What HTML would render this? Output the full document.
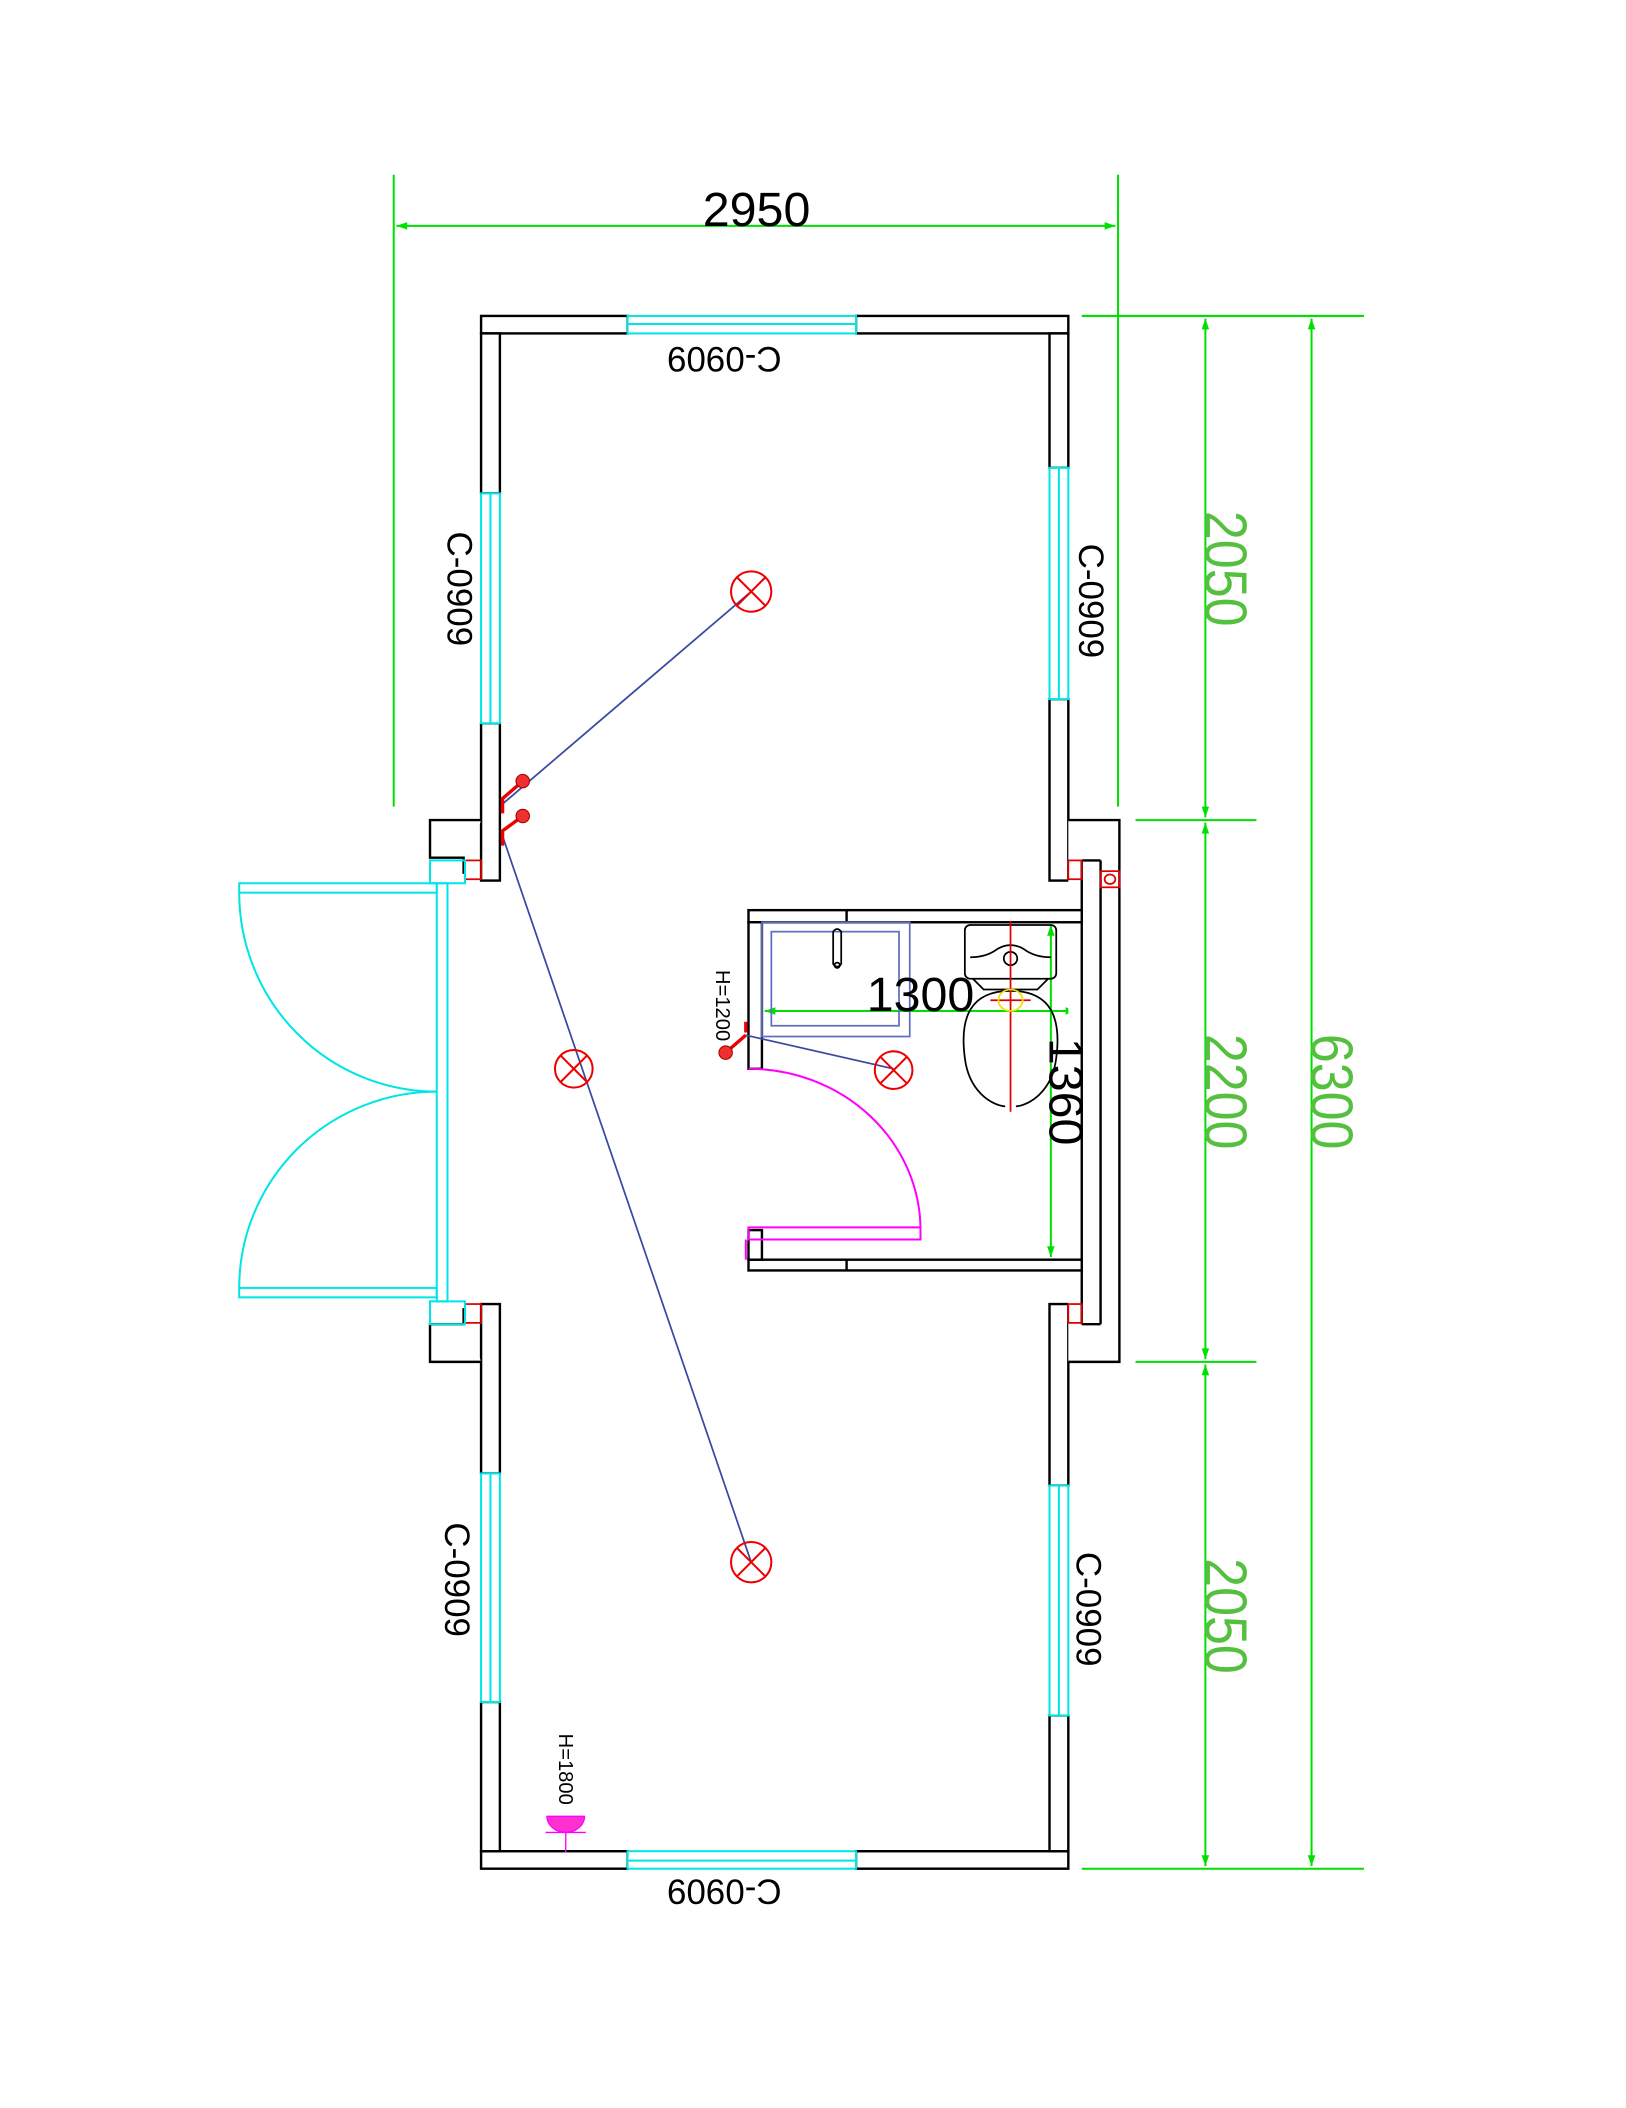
<!DOCTYPE html>
<html><head><meta charset="utf-8"><style>html,body{margin:0;padding:0;background:#fff;}svg{display:block}</style></head>
<body>
<svg width="1626" height="2108" viewBox="0 0 1210 1568" preserveAspectRatio="none" xmlns="http://www.w3.org/2000/svg" font-family="Liberation Sans, sans-serif">
<defs>
<marker id="ar" viewBox="0 0 10 10" refX="10" refY="5" markerWidth="10" markerHeight="8" orient="auto-start-reverse" markerUnits="userSpaceOnUse"><path d="M0,1.5 L10,5 L0,8.5 z" fill="#00e000"/></marker>
</defs>
<g fill="none" stroke="#00e000" stroke-width="1.5">
<line x1="293" y1="130" x2="293" y2="600"/>
<line x1="832" y1="130" x2="832" y2="600"/>
<line x1="295" y1="168" x2="830" y2="168" marker-start="url(#ar)" marker-end="url(#ar)"/>
<line x1="805" y1="235" x2="1015" y2="235"/>
<line x1="845" y1="610" x2="935" y2="610"/>
<line x1="845" y1="1013" x2="935" y2="1013"/>
<line x1="805" y1="1390" x2="1015" y2="1390"/>
<line x1="897" y1="237" x2="897" y2="608" marker-start="url(#ar)" marker-end="url(#ar)"/>
<line x1="897" y1="612" x2="897" y2="1011" marker-start="url(#ar)" marker-end="url(#ar)"/>
<line x1="897" y1="1015" x2="897" y2="1388" marker-start="url(#ar)" marker-end="url(#ar)"/>
<line x1="976" y1="237" x2="976" y2="1388" marker-start="url(#ar)" marker-end="url(#ar)"/>
<line x1="569" y1="752" x2="801" y2="752" marker-start="url(#ar)" marker-end="url(#ar)"/>
<line x1="782" y1="688" x2="782" y2="935" marker-start="url(#ar)" marker-end="url(#ar)"/>
<line x1="745" y1="686" x2="805" y2="686"/>
<line x1="745" y1="937" x2="805" y2="937"/>
<line x1="567" y1="686" x2="567" y2="795"/>
<line x1="803" y1="698" x2="803" y2="937"/>
</g>
<text x="563" y="168" font-size="36" text-anchor="middle" fill="#000">2950</text>
<g fill="#55c040" font-size="44">
<text transform="translate(897,423) rotate(90)" text-anchor="middle" textLength="86" lengthAdjust="spacingAndGlyphs">2050</text>
<text transform="translate(897,812) rotate(90)" text-anchor="middle" textLength="86" lengthAdjust="spacingAndGlyphs">2200</text>
<text transform="translate(897,1202) rotate(90)" text-anchor="middle" textLength="86" lengthAdjust="spacingAndGlyphs">2050</text>
<text transform="translate(976,812) rotate(90)" text-anchor="middle" textLength="86" lengthAdjust="spacingAndGlyphs">6300</text>
</g>
<g fill="#fff" stroke="#000" stroke-width="1.8">
<rect x="358" y="235" width="109" height="13"/>
<rect x="637" y="235" width="158" height="13"/>
<rect x="358" y="1377" width="109" height="13"/>
<rect x="637" y="1377" width="158" height="13"/>
<rect x="358" y="248" width="14" height="119"/>
<rect x="358" y="538" width="14" height="117"/>
<rect x="358" y="970" width="14" height="126"/>
<rect x="358" y="1266" width="14" height="111"/>
<rect x="781" y="248" width="14" height="100"/>
<rect x="781" y="520" width="14" height="135"/>
<rect x="781" y="970" width="14" height="135"/>
<rect x="781" y="1276" width="14" height="101"/>
<path d="M358,610 H320 V638 H345 V650" />
<path d="M358,1013 H320 V985 H345 V973" />
<path d="M795,610 H833 V1013 H795"/>
<line x1="819" y1="640" x2="819" y2="985"/>
<path d="M805,640 H819 M805,985 H819"/>
<line x1="805" y1="640" x2="805" y2="985"/>
</g>
<g fill="none" stroke="#e00000" stroke-width="1.3">
<rect x="346" y="640" width="12" height="14"/><rect x="346" y="970" width="12" height="14"/>
<rect x="795" y="640" width="10" height="14"/><rect x="795" y="970" width="10" height="14"/>
<rect x="819" y="648" width="14" height="12"/><ellipse cx="826" cy="654" rx="4" ry="3.5"/>
</g>
<g fill="#fff" stroke="#00e5e5" stroke-width="1.5">
<rect x="467" y="235" width="170" height="13"/><line x1="467" y1="241" x2="637" y2="241"/>
<rect x="467" y="1377" width="170" height="13"/><line x1="467" y1="1384" x2="637" y2="1384"/>
<rect x="358" y="367" width="14" height="171"/><line x1="365" y1="367" x2="365" y2="538"/>
<rect x="358" y="1096" width="14" height="170"/><line x1="365" y1="1096" x2="365" y2="1266"/>
<rect x="781" y="348" width="14" height="172"/><line x1="788" y1="348" x2="788" y2="520"/>
<rect x="781" y="1105" width="14" height="171"/><line x1="788" y1="1105" x2="788" y2="1276"/>
</g>
<g fill="none" stroke="#00e5e5" stroke-width="1.5">
<rect x="320" y="640" width="26" height="17"/><rect x="320" y="968" width="26" height="17"/>
<rect x="325" y="657" width="8" height="311"/>
<rect x="178" y="657" width="147" height="7"/>
<rect x="178" y="958" width="147" height="7"/>
<path d="M178,664 A147,148 0 0 0 325,812"/>
<path d="M325,812 A147,146 0 0 0 178,958"/>
</g>
<g font-size="26" fill="#000" text-anchor="middle">
<text transform="translate(539,258) rotate(180)" >C-0909</text>
<text transform="translate(539,1398) rotate(180)">C-0909</text>
<text transform="translate(333,438) rotate(90)">C-0909</text>
<text transform="translate(803,447) rotate(90)">C-0909</text>
<text transform="translate(331,1175) rotate(90)">C-0909</text>
<text transform="translate(801,1197) rotate(90)">C-0909</text>
</g>
<g fill="#fff" stroke="#000" stroke-width="1.8">
<rect x="557" y="677" width="248" height="9"/><line x1="630" y1="677" x2="630" y2="686"/>
<rect x="557" y="937" width="248" height="8"/><line x1="630" y1="937" x2="630" y2="945"/>
<rect x="557" y="686" width="10" height="109"/>
<rect x="557" y="915" width="10" height="22"/>
</g>
<g fill="none" stroke="#6070c0" stroke-width="1.3">
<rect x="567" y="686" width="110" height="85"/><rect x="574" y="693" width="95" height="70"/>
</g>
<g fill="none" stroke="#000" stroke-width="1.3">
<path d="M620,693 q3,-4 6,0 v24 q-3,4 -6,0z"/><circle cx="623" cy="718" r="2"/>
<rect x="718" y="688" width="68" height="40" rx="4"/>
<path d="M722,712 q12,0 20,-6 q10,-6 20,0 q8,6 20,6"/>
<circle cx="752" cy="713" r="5"/>
<path d="M724,728 l8,8 h40 l8,-8"/>
<path d="M752,737 c-30,0 -38,20 -34,50 c3,25 20,35 30,36 M752,737 c30,0 38,20 34,50 c-3,25 -20,35 -30,36"/>
</g>
<g stroke="#e00000" stroke-width="1.3" fill="none">
<line x1="752" y1="685" x2="752" y2="827"/><line x1="737" y1="744" x2="767" y2="744"/>
</g>
<ellipse cx="752" cy="744" rx="9" ry="8" fill="none" stroke="#f0e000" stroke-width="1.3"/>
<g fill="none" stroke="#ff00ff" stroke-width="1.5">
<path d="M557,795 A128,120 0 0 1 685,915 V922 H557 V913 H685"/>
<line x1="555" y1="922" x2="555" y2="937"/>
</g>
<text x="685" y="752" font-size="36" text-anchor="middle" fill="#000">1300</text>
<text transform="translate(781,812) rotate(90)" font-size="36" text-anchor="middle" fill="#000">1360</text>
<text transform="translate(533,748) rotate(90)" font-size="15" text-anchor="middle" fill="#000">H=1200</text>
<text transform="translate(416,1316) rotate(90)" font-size="15" text-anchor="middle" fill="#000">H=1800</text>
<g stroke="#3a4aa0" stroke-width="1.3" fill="none">
<line x1="374" y1="598" x2="559" y2="440"/>
<line x1="374" y1="622" x2="559" y2="1162"/>
<line x1="555" y1="770" x2="665" y2="795"/>
</g>
<g stroke="#ee0000" stroke-width="1.5" fill="none">
<circle cx="559" cy="440" r="15"/><path d="M548,429 l22,22 M570,429 l-22,22"/>
<circle cx="427" cy="795" r="14"/><path d="M417,785 l20,20 M437,785 l-20,20"/>
<circle cx="559" cy="1162" r="15"/><path d="M548,1151 l22,22 M570,1151 l-22,22"/>
<circle cx="665" cy="796" r="14"/><path d="M655,786 l20,20 M675,786 l-20,20"/>
</g>
<g stroke="#ee0000" stroke-width="2.5" fill="none">
<path d="M374,605 V594 L389,581"/><path d="M374,629 V618 L389,607"/>
<path d="M555,768 V760 M555,770 L540,783"/>
</g>
<g fill="#ee3030" stroke="#a00" stroke-width="0.8">
<circle cx="389" cy="581" r="5"/><circle cx="389" cy="607" r="5"/><circle cx="540" cy="783" r="5"/>
</g>
<path d="M407,1351 h28 a14,12 0 0 1 -28,0z" fill="#ff30d0" stroke="#ff00ff"/>
<line x1="421" y1="1363" x2="421" y2="1378" stroke="#ff00ff"/>
<line x1="406" y1="1363" x2="436" y2="1363" stroke="#ff00ff"/>
</svg>
</body></html>
